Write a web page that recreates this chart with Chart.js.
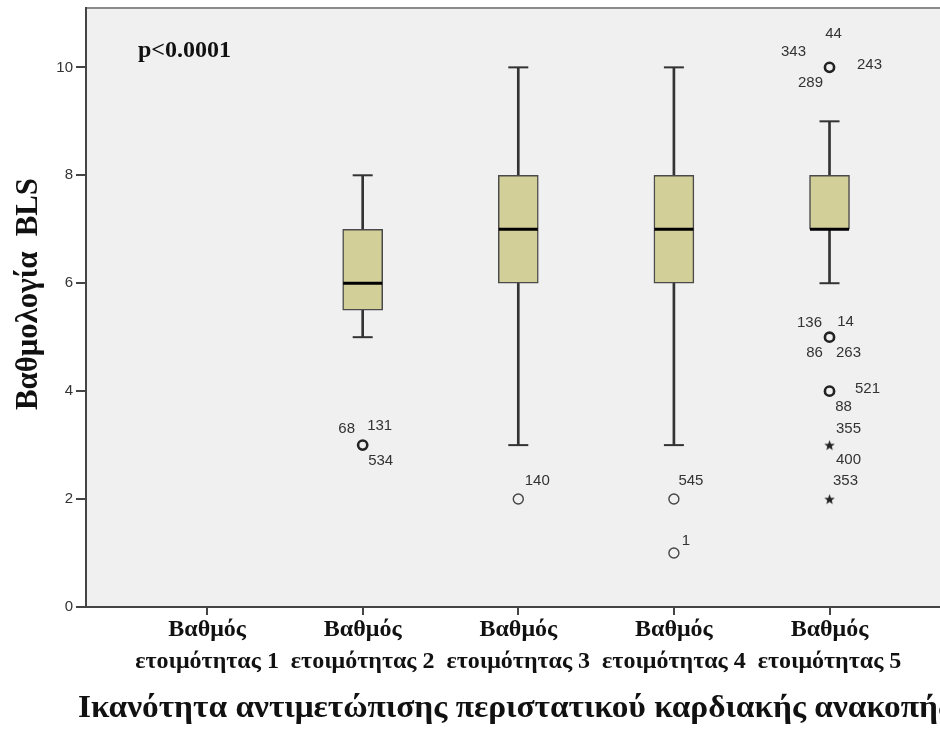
<!DOCTYPE html>
<html>
<head>
<meta charset="utf-8">
<script src="https://cdn.jsdelivr.net/npm/chart.js@4/dist/chart.umd.min.js"></script>
<style>
  html, body { margin: 0; padding: 0; background: #ffffff; overflow: hidden; }
  canvas { display: block; }
</style>
</head>
<body>
<canvas id="c" width="940" height="730"></canvas>
<script>
// Readiness groups on the x axis
const categories = [
  ['Βαθμός', 'ετοιμότητας 1'],
  ['Βαθμός', 'ετοιμότητας 2'],
  ['Βαθμός', 'ετοιμότητας 3'],
  ['Βαθμός', 'ετοιμότητας 4'],
  ['Βαθμός', 'ετοιμότητας 5']
];
const groupIndex = [1, 2, 3, 4, 5];

// Box summaries per group (group 1 has no observations)
const whiskerLow  = [null, 5,   3, 3, 6];
const quartile1   = [null, 5.5, 6, 6, 7];
const medianValue = [null, 6,   7, 7, 7];
const quartile3   = [null, 7,   8, 8, 8];
const whiskerHigh = [null, 8,  10, 10, 9];

// Outliers (circles) and extremes (stars) with their case numbers
const outlierGroup = [2, 3, 4, 4, 5, 5, 5];
const outlierValue = [3, 2, 2, 1, 10, 5, 4];
const outlierCases = [['68', '131', '534'], ['140'], ['545'], ['1'],
                      ['44', '343', '243', '289'], ['136', '14', '86', '263'], ['521', '88']];
const extremeGroup = [5, 5];
const extremeValue = [3, 2];
const extremeCases = [['355', '400'], ['353']];

const yTicks = [0, 2, 4, 6, 8, 10];

const yTitle = 'Βαθμολογία  BLS';
const xTitle = 'Ικανότητα αντιμετώπισης περιστατικού καρδιακής ανακοπής';
const pText = 'p<0.0001';

// Where each case number sits around its marker (pixels from the marker centre)
const caseLabelOffset = {
  '68': [-16, -16], '131': [17, -19], '534': [18, 16],
  '140': [19, -18],
  '545': [17, -18], '1': [12, -12],
  '44': [4, -34], '343': [-36, -16], '243': [40, -3], '289': [-19, 15],
  '136': [-20, -14], '14': [16, -15], '86': [-15, 16], '263': [19, 16],
  '521': [38, -2], '88': [14, 16],
  '355': [19, -16], '400': [19, 15],
  '353': [16, -18]
};

const SERIF = '"Liberation Serif", "Times New Roman", serif';
const SANS = '"Liberation Sans", Arial, sans-serif';
const INK = '#333333';

// Filled five-point star used for extreme values
function makeStar(r, color) {
  const c = document.createElement('canvas');
  const s = Math.ceil(2 * r + 2);
  c.width = s; c.height = s;
  const g = c.getContext('2d');
  g.fillStyle = color;
  g.beginPath();
  for (let i = 0; i < 10; i++) {
    const rr = i % 2 === 0 ? r : r * 0.42;
    const a = -Math.PI / 2 + i * Math.PI / 5;
    const px = s / 2 + rr * Math.cos(a);
    const py = s / 2 + rr * Math.sin(a) + 0.5;
    if (i === 0) g.moveTo(px, py); else g.lineTo(px, py);
  }
  g.closePath();
  g.fill();
  return c;
}
const starImg = makeStar(5.5, '#222222');

// Build datasets from the summaries
const present = groupIndex.filter((g, i) => medianValue[i] !== null);
const idx = g => groupIndex.indexOf(g);

const whiskerData = present.map(g => ({ x: g, y: [whiskerLow[idx(g)], whiskerHigh[idx(g)]] }));
const boxData = present.map(g => ({ x: g, y: [quartile1[idx(g)], quartile3[idx(g)]] }));
const capData = [];
present.forEach(g => {
  capData.push({ x: g, y: whiskerLow[idx(g)] });
  capData.push({ x: g, y: whiskerHigh[idx(g)] });
});
const medianData = present.map(g => ({ x: g, y: medianValue[idx(g)] }));

const outlierPoints = outlierGroup.map((g, i) => ({ x: g, y: outlierValue[i], cases: outlierCases[i] }));
const multiOutliers = outlierPoints.filter(p => p.cases.length > 1);
const singleOutliers = outlierPoints.filter(p => p.cases.length === 1);
const extremePoints = extremeGroup.map((g, i) => ({ x: g, y: extremeValue[i], cases: extremeCases[i] }));

const framePlugin = {
  id: 'frame',
  beforeDraw(chart) {
    const { ctx, chartArea: a, width, height } = chart;
    ctx.save();
    ctx.fillStyle = '#ffffff';
    ctx.fillRect(0, 0, width, height);
    ctx.fillStyle = '#f0f0f0';
    ctx.fillRect(a.left, a.top, a.right - a.left, a.bottom - a.top);
    ctx.restore();
  },
  afterDatasetsDraw(chart) {
    const { ctx, chartArea: a, scales } = chart;
    ctx.save();
    // plot frame
    ctx.lineWidth = 2;
    ctx.strokeStyle = '#8a8a8a';
    ctx.beginPath(); ctx.moveTo(a.left, a.top); ctx.lineTo(a.right + 2, a.top); ctx.stroke();
    ctx.strokeStyle = '#444444';
    ctx.beginPath(); ctx.moveTo(a.left, a.top - 1); ctx.lineTo(a.left, a.bottom); ctx.lineTo(a.right + 2, a.bottom); ctx.stroke();

    // case numbers beside outliers and extremes
    ctx.font = '15px ' + SANS;
    ctx.fillStyle = INK;
    ctx.textAlign = 'center';
    ctx.textBaseline = 'middle';
    outlierPoints.concat(extremePoints).forEach(p => {
      const px = scales.x.getPixelForValue(p.x);
      const py = scales.y.getPixelForValue(p.y);
      p.cases.forEach(c => {
        const o = caseLabelOffset[c] || [14, -14];
        ctx.fillText(c, px + o[0], py + o[1]);
      });
    });

    // p-value note
    ctx.font = 'bold 24px ' + SERIF;
    ctx.fillStyle = '#111111';
    ctx.textAlign = 'left';
    ctx.textBaseline = 'alphabetic';
    ctx.fillText(pText, 138, 57);

    // x axis title (runs slightly past the right edge of the canvas)
    ctx.font = 'bold 31px ' + SERIF;
    const xw = ctx.measureText(xTitle).width;
    ctx.save();
    ctx.translate(78, 717);
    ctx.scale(Math.min(1.1, 874 / xw), 1);
    ctx.fillText(xTitle, 0, 0);
    ctx.restore();

    // y axis title
    ctx.font = 'bold 32px ' + SERIF;
    const yw = ctx.measureText(yTitle).width;
    ctx.save();
    ctx.translate(37, 294);
    ctx.rotate(-Math.PI / 2);
    ctx.scale(Math.min(1.1, 232 / yw), 1);
    ctx.textAlign = 'center';
    ctx.fillText(yTitle, 0, 0);
    ctx.restore();

    ctx.restore();
  }
};

// Fixed axis sizes, no extra room reserved for edge labels
const noEdgePadding = s => { s.paddingLeft = 0; s.paddingRight = 0; s.paddingTop = 0; s.paddingBottom = 0; };

new Chart(document.getElementById('c'), {
  type: 'bar',
  data: {
    datasets: [
      {
        type: 'scatter', label: 'extremes', data: extremePoints,
        pointStyle: starImg, pointRadius: 6, order: 0
      },
      {
        type: 'scatter', label: 'outliers (several cases)', data: multiOutliers,
        pointStyle: 'circle', pointRadius: 4.6, borderWidth: 2.6,
        borderColor: '#222222', backgroundColor: 'rgba(0,0,0,0)', order: 0
      },
      {
        type: 'scatter', label: 'outliers', data: singleOutliers,
        pointStyle: 'circle', pointRadius: 5, borderWidth: 1.4,
        borderColor: '#444444', backgroundColor: 'rgba(0,0,0,0)', order: 0
      },
      {
        type: 'scatter', label: 'median', data: medianData,
        pointStyle: 'line', pointRadius: 19.5, borderWidth: 3,
        borderColor: '#000000', order: 1
      },
      {
        type: 'bar', label: 'box', data: boxData, grouped: false,
        barThickness: 40, backgroundColor: '#d3cf98', borderColor: '#4a4a4a',
        borderWidth: 1.5, borderSkipped: false, order: 2
      },
      {
        type: 'scatter', label: 'whisker caps', data: capData,
        pointStyle: 'line', pointRadius: 10, borderWidth: 2,
        borderColor: INK, order: 3
      },
      {
        type: 'bar', label: 'whisker', data: whiskerData, grouped: false,
        barThickness: 2, backgroundColor: INK, borderWidth: 0, order: 4
      }
    ]
  },
  options: {
    responsive: false,
    animation: false,
    events: [],
    layout: { autoPadding: false, padding: { top: 8, left: 0, right: 0, bottom: 0 } },
    plugins: { legend: { display: false }, tooltip: { enabled: false } },
    scales: {
      x: {
        type: 'linear',
        min: 0.222,
        max: 5.71,
        offset: false,
        afterBuildTicks: s => { s.ticks = groupIndex.map(v => ({ value: v })); },
        afterFit: s => { s.height = 123; noEdgePadding(s); },
        border: { display: false },
        grid: { display: true, offset: false, drawOnChartArea: false, drawTicks: true, tickLength: 8, color: '#444444', lineWidth: 2 },
        ticks: {
          autoSkip: false, maxRotation: 0, minRotation: 0, padding: -1,
          color: '#111111',
          font: { family: SERIF, size: 24, weight: 'bold', lineHeight: '32px' },
          callback: v => categories[v - 1]
        }
      },
      y: {
        type: 'linear',
        min: 0,
        max: 11.1,
        afterBuildTicks: s => { s.ticks = yTicks.map(v => ({ value: v })); },
        afterFit: s => { s.width = 86; noEdgePadding(s); },
        border: { display: false },
        grid: { display: true, offset: false, drawOnChartArea: false, drawTicks: true, tickLength: 10, color: '#444444', lineWidth: 2 },
        ticks: {
          padding: 3, color: INK,
          font: { family: SANS, size: 15 }
        }
      }
    }
  },
  plugins: [framePlugin]
});
</script>
</body>
</html>
